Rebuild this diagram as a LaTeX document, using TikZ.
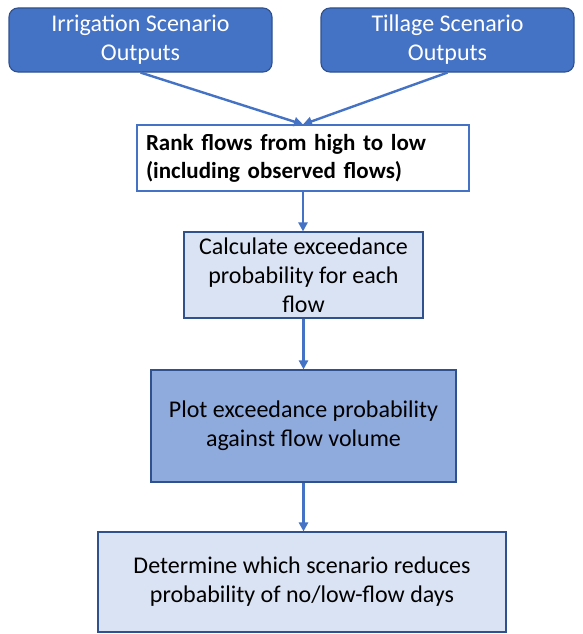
\documentclass[tikz,border=0pt]{standalone}
\usepackage{fontspec}
\setmainfont{Carlito}
\usetikzlibrary{arrows.meta}
\definecolor{accent}{HTML}{4472C4}
\definecolor{edgeblue}{HTML}{2F528F}
\definecolor{paleblue}{HTML}{DAE3F3}
\definecolor{midblue}{HTML}{8FAADC}
\tikzset{
  box/.style={draw=edgeblue, line width=1.1pt, inner sep=0pt, align=center,
    font=\fontsize{24}{29}\selectfont, text=black},
  topbox/.style={box, fill=accent, text=white, rounded corners=9pt},
  flow/.style={draw=accent, line width=2.4pt, -{Triangle[length=9pt,width=9pt]}}
}
\begin{document}
\begin{tikzpicture}[x=1pt,y=-1pt]
\useasboundingbox (0,0) rectangle (582,634);
\node[topbox, minimum width=263pt, minimum height=64pt] (irr) at (140.5,40) {Irrigation Scenario\\Outputs};
\node[topbox, minimum width=253pt, minimum height=64pt] (till) at (447.5,40) {Tillage Scenario\\Outputs};
\node[box, draw=accent, fill=white, minimum width=332pt, minimum height=66pt,
      text width=314pt, align=left, font=\fontsize{23}{28}\selectfont\bfseries] (rank) at (303,158)
      {Rank flows from high to low\\(including observed flows)};
\node[box, fill=paleblue, minimum width=239pt, minimum height=86pt] (calc) at (303.5,275)
      {Calculate exceedance\\probability for each\\flow};
\node[box, fill=midblue, minimum width=305pt, minimum height=112pt] (plot) at (303.5,426)
      {Plot exceedance probability\\against flow volume};
\node[box, fill=paleblue, minimum width=408pt, minimum height=100pt] (det) at (302,582)
      {Determine which scenario reduces\\probability of no/low-flow days};
\draw[flow] (irr.south) -- (rank.north);
\draw[flow] (till.south) -- (rank.north);
\draw[flow] (rank.south) -- (rank.south |- calc.north);
\draw[flow] (calc.south) -- (plot.north);
\draw[flow] (plot.south) -- (plot.south |- det.north);
\end{tikzpicture}
\end{document}
